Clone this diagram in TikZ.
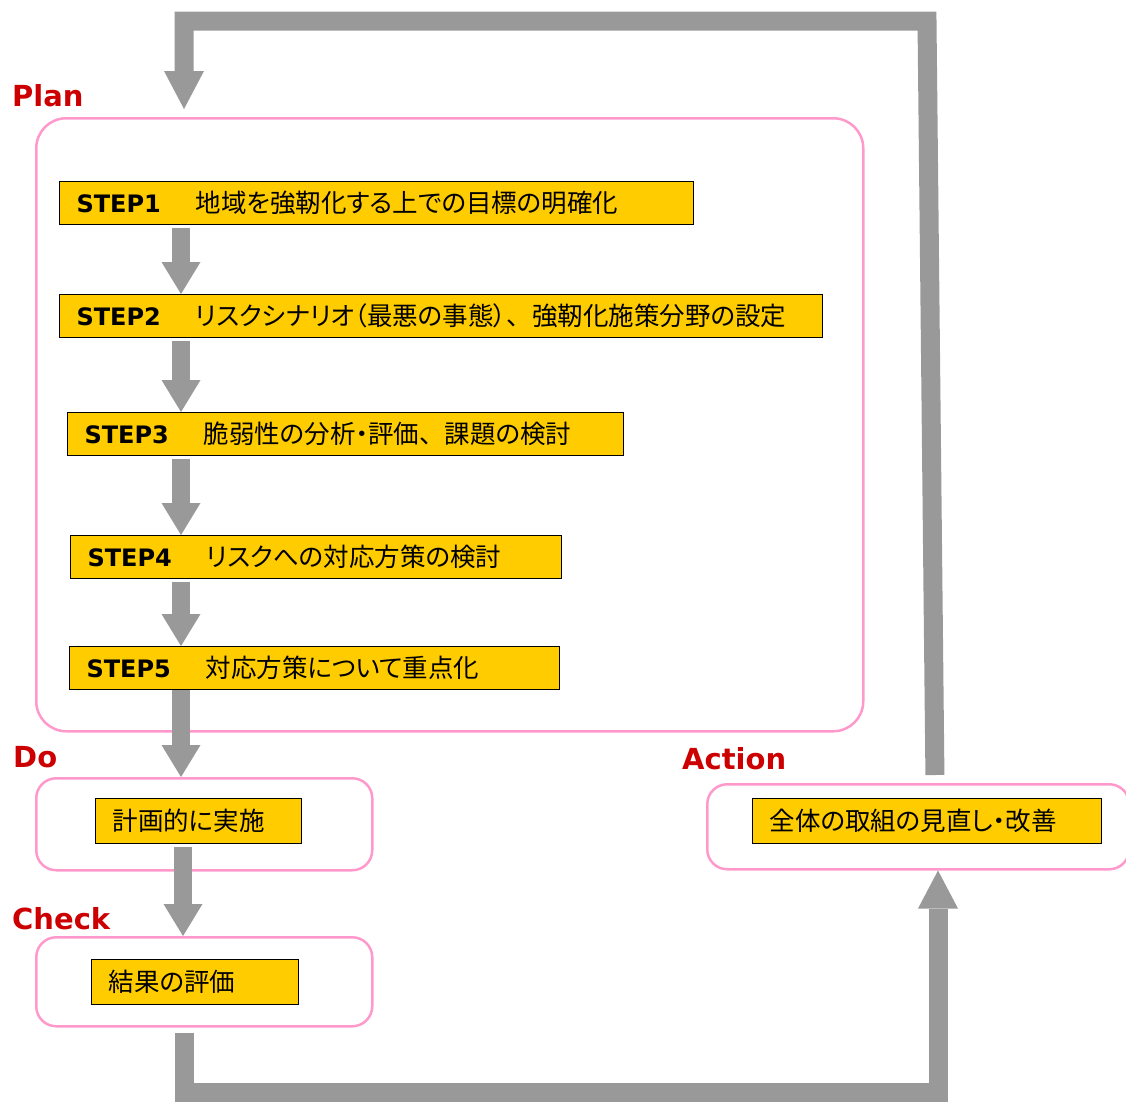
\documentclass[tikz,border=0pt]{standalone}
\usepackage{fontspec}
\setmainfont{DejaVu Sans}
\newfontfamily\jpfont[RawFeature=+palt]{Noto Sans CJK JP}
\newfontfamily\jpfull{Noto Sans CJK JP}
\usetikzlibrary{arrows.meta,positioning}
\definecolor{stepyellow}{HTML}{FFCC00}
\definecolor{framepink}{HTML}{FF99CC}
\definecolor{flowgray}{HTML}{999999}
\definecolor{phasered}{HTML}{CC0000}
\newcommand{\steplbl}[1]{\makebox[119pt][l]{\bfseries #1}}
\newcommand{\jptext}[1]{{\jpfont\fontsize{25.5}{28}\selectfont #1}}
\newcommand{\jpcomma}{{\jpfull 、}}

\begin{document}
\begin{tikzpicture}[x=1pt,y=-1pt,
  stepbox/.style={draw=black,line width=1pt,fill=stepyellow,minimum height=43pt,
    inner xsep=17pt,inner ysep=0pt,align=left,anchor=north west,
    font=\fontsize{24}{28}\selectfont},
  framebox/.style={draw=framepink,line width=2.5pt,rounded corners=20pt,
    anchor=north west,inner sep=0pt},
  phase/.style={text=phasered,font=\fontsize{29}{34}\selectfont\bfseries,
    anchor=base west,inner sep=0pt},
  flow/.style={draw=flowgray,line width=18pt,
    -{Triangle[width=39pt,length=32pt,line width=0pt]}},
  route/.style={draw=flowgray,line width=19pt,line join=miter,
    -{Triangle[width=40pt,length=38pt,line width=0pt]}}]
   \useasboundingbox (0,0) rectangle (1126,1101);
   \node[framebox,rounded corners=30pt,minimum width=827pt,minimum height=613pt] (planframe) at (35,117) {};
   \node[framebox,minimum width=336pt,minimum height=92pt] (doframe) at (35,777) {};
   \node[framebox,minimum width=336pt,minimum height=89pt] (checkframe) at (35,936) {};
   \node[framebox,minimum width=422pt,minimum height=85pt] (actframe) at (706,783) {};
   \node[phase] (planlbl) at (12,106) {Plan};
   \node[phase] (dolbl) at (13,767) {Do};
   \node[phase] (checklbl) at (12,929) {Check};
   \node[phase] (actlbl) at (682,769) {Action};
   \node[stepbox,text width=600pt] (step1) at (59,181) {\steplbl{STEP1}\jptext{地域を強靭化する上での目標の明確化}};
   \node[stepbox,text width=729pt] (step2) at (59,294) {\steplbl{STEP2}\jptext{リスクシナリオ（最悪の事態）\jpcomma 強靭化施策分野の設定}};
   \node[stepbox,text width=522pt] (step3) at (67,412) {\steplbl{STEP3}\jptext{脆弱性の分析・評価\jpcomma 課題の検討}};
   \node[stepbox,text width=457pt] (step4) at (70,535) {\steplbl{STEP4}\jptext{リスクへの対応方策の検討}};
   \node[stepbox,text width=456pt] (step5) at (69,646) {\steplbl{STEP5}\jptext{対応方策について重点化}};
   \node[stepbox,text width=172pt,minimum height=45pt] (doin) at (95,798) {\jptext{計画的に実施}};
   \node[stepbox,text width=173pt,minimum height=45pt] (checkin) at (91,959) {\jptext{結果の評価}};
   \node[stepbox,text width=315pt,minimum height=45pt] (actin) at (752,798) {\jptext{全体の取組の見直し・改善}};
   \coordinate (spine) at (181,0);
   \coordinate (dospine) at (183,0);
   \coordinate (lowleft) at (184,1092);
   \coordinate (lowright) at (938,1092);
   \coordinate (riseup) at (935,0);
   \coordinate (topright) at (927,21);
   \coordinate (topleft) at (184,21);
   \draw[flow,shorten <=3pt] (step1.south -| spine) -- (step2.north -| spine);
   \draw[flow,shorten <=3pt] (step2.south -| spine) -- (step3.north -| spine);
   \draw[flow,shorten <=3pt] (step3.south -| spine) -- (step4.north -| spine);
   \draw[flow,shorten <=3pt] (step4.south -| spine) -- (step5.north -| spine);
   \draw[flow] (step5.south -| spine) -- (doframe.north -| spine);
   \draw[flow,shorten <=3pt] (doin.south -| dospine) -- (checkframe.north -| dospine);
   \draw[route,shorten <=5pt] (checkframe.south -| lowleft) -- (lowleft) -- (lowright) -- (actframe.south -| lowright);
   \draw[route,shorten <=8pt,shorten >=8pt] (actframe.north -| riseup) -- (topright) -- (topleft) -- (planframe.north -| topleft);
\end{tikzpicture}
\end{document}
